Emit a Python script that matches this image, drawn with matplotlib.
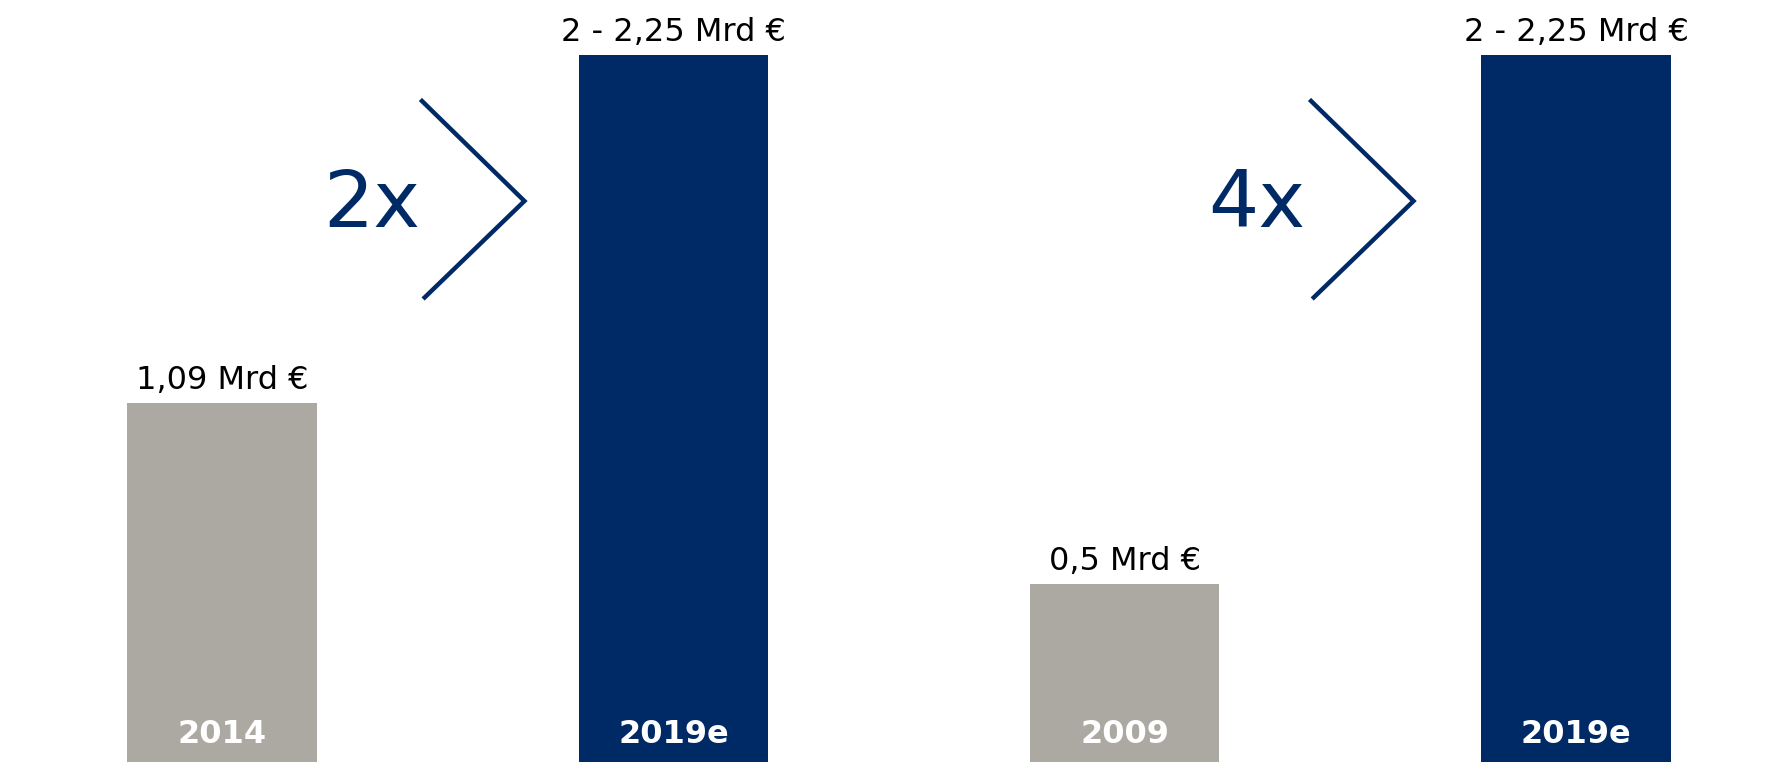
import matplotlib.pyplot as plt

years = ['2014', '2019e', '2009', '2019e']
heights = [1.09, 2.15, 0.54, 2.15]   # bar heights (Mrd €)
labels = ['1,09 Mrd €', '2 - 2,25 Mrd €', '0,5 Mrd €', '2 - 2,25 Mrd €']
factors = ['2x', '4x']
factor_x = [0.439, 2.40]   # right edge of the factor text
chevron_x = [0.443, 2.413]  # left ends of the chevrons

grey = '#aca8a2'
navy = '#002a66'
colors = [grey, navy, grey, navy]

fig = plt.figure(figsize=(17.8, 7.62), dpi=100)
ax = fig.add_axes([0, 0, 1, 1])
xs = list(range(len(years)))

ax.bar(xs, heights, width=0.42, color=colors)

for x, h, lab, yr in zip(xs, heights, labels, years):
    ax.annotate(lab, (x, h), xytext=(0, 10), textcoords='offset points',
                ha='center', va='baseline', fontsize=23, color='black')
    ax.text(x, 0.058, yr, ha='center', va='baseline', fontsize=23,
            fontweight='bold', color='white')

# chevrons with growth factor between each pair
for f, fx, cx in zip(factors, factor_x, chevron_x):
    ax.plot([cx, cx + 0.227, cx + 0.006], [2.009, 1.705, 1.412],
            color=navy, lw=3.2, solid_joinstyle='miter')
    ax.text(fx, 1.626, f, ha='right', va='baseline', fontsize=57,
            color=navy)

ax.set_xlim(-0.492, 3.452)
ax.set_ylim(0, 2.316)
ax.axis('off')

fig.savefig('out.png', dpi=100)
